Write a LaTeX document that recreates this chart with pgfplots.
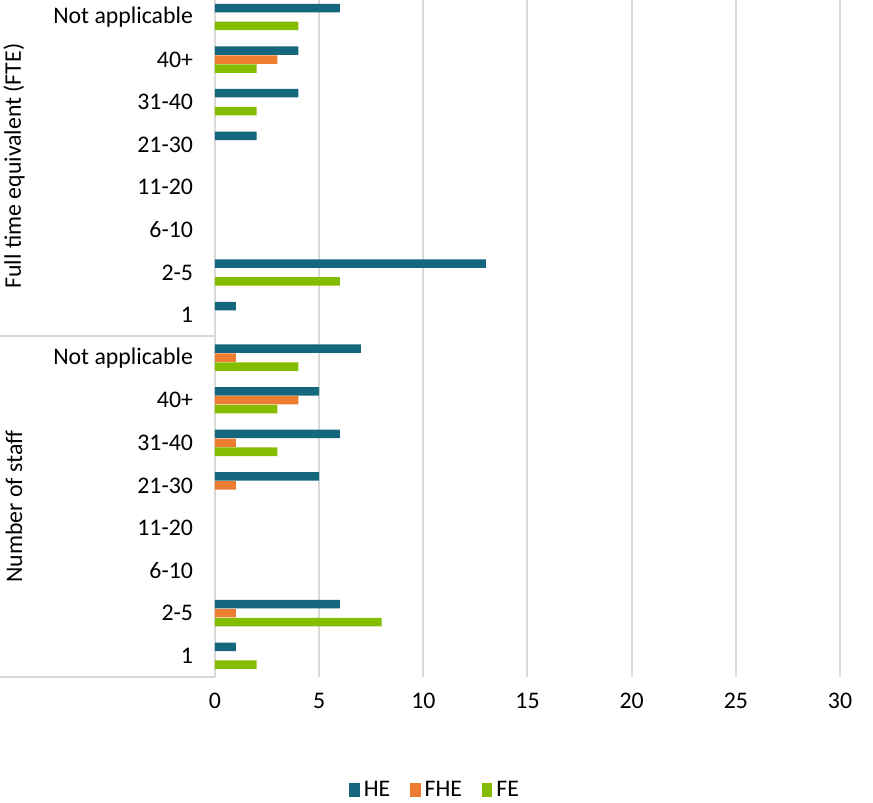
\documentclass[border=0pt]{standalone}
\usepackage{fontspec}
\setmainfont{Carlito}
\usepackage{pgfplots}
\pgfplotsset{compat=1.18}
\definecolor{cHE}{HTML}{15677E}
\definecolor{cFHE}{HTML}{ED7D31}
\definecolor{cFE}{HTML}{84BC00}
\definecolor{gridc}{HTML}{D9D9D9}
\begin{document}
\begin{tikzpicture}[font=\fontsize{11.9}{14}\selectfont]
\useasboundingbox (-107.5pt,-63pt) rectangle (329pt,338.5pt);
\begin{axis}[
  at={(0,0)}, anchor=south west,
  scale only axis, width=312.5pt, height=338.5pt,
  clip=false,
  xbar, bar width=0.2,
  xmin=0, xmax=30, ymin=-0.5, ymax=15.4,
  xtick={0,5,...,30}, ytick={0,...,15},
  yticklabels={1,2-5,6-10,11-20,21-30,31-40,40+,Not applicable,1,2-5,6-10,11-20,21-30,31-40,40+,Not applicable},
  xmajorgrids, grid style={gridc, line width=1pt},
  axis lines*=left,
  x axis line style={draw=none},
  y axis line style={gridc, line width=1pt},
  major tick length=0pt,
  /pgf/number format/assume math mode=true,
  yticklabel style={xshift=-7.5pt},
  xticklabel style={yshift=-4.5pt},
  legend style={at={(0.354,-0.167)}, anchor=center, draw=none, legend columns=3,
    /tikz/every even column/.append style={column sep=8pt}},
  legend image code/.code={\fill[#1] (0pt,-3.5pt) rectangle (5.2pt,3.5pt);},
]
\addplot[fill=cHE, draw=none, bar shift=0.21] coordinates {(1,0)(6,1)(5,4)(6,5)(5,6)(7,7)(1,8)(13,9)(2,12)(4,13)(4,14)(6,15)};
\addplot[fill=cFHE, draw=none, bar shift=0] coordinates {(1,1)(1,4)(1,5)(4,6)(1,7)(3,14)};
\addplot[fill=cFE, draw=none, bar shift=-0.21] coordinates {(2,0)(8,1)(3,5)(3,6)(4,7)(6,9)(2,13)(2,14)(4,15)};
\legend{HE,FHE,FE}
\draw[gridc, line width=1pt] (axis cs:0,7.5) -- ([xshift=-107.5pt]axis cs:0,7.5);
\draw[gridc, line width=1pt] (axis cs:0,-0.5) -- ([xshift=-107.5pt]axis cs:0,-0.5);
\node[rotate=90] at ([xshift=-100.5pt]axis cs:0,11.5) {Full time equivalent (FTE)};
\node[rotate=90] at ([xshift=-100.5pt]axis cs:0,3.5) {Number of staff};
\end{axis}
\end{tikzpicture}
\end{document}
